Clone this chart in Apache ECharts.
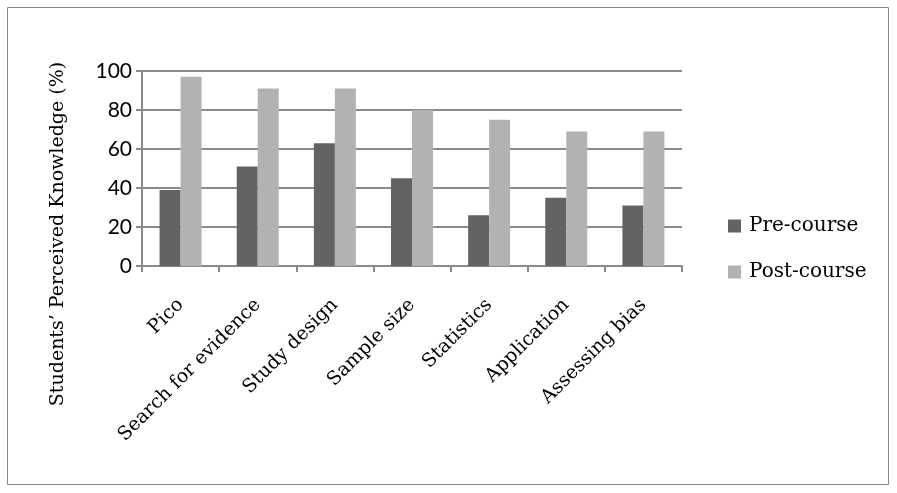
<!DOCTYPE html>
<html lang="en">
<head>
    <meta charset="UTF-8">
    <title>Perceived knowledge</title>
    <script src="https://cdn.jsdelivr.net/npm/echarts@6/dist/echarts.min.js"></script>
    <style>
        html, body {margin: 0; padding: 0; background: #fff;}
        #chart {width: 897px; height: 493px;}
    </style>
</head>
<body>
<div id="chart"></div>
<script type="text/javascript">
    var categories = ['Pico', 'Search for evidence', 'Study design', 'Sample size', 'Statistics', 'Application', 'Assessing bias'];
    var preCourse = [39, 51, 63, 45, 26, 35, 31];
    var postCourse = [97, 91, 91, 80, 75, 69, 69];
    var yTicks = [0, 20, 40, 60, 80, 100];

    var myChart = echarts.init(document.getElementById('chart'));
    var serif = '"DejaVu Serif", "Liberation Serif", serif';

    option = {
        animation: false,
        backgroundColor: '#fff',
        graphic: [
            {
                type: 'rect',
                shape: {x: 7.5, y: 7.5, width: 881, height: 477},
                style: {fill: 'none', stroke: '#8a8a8a', lineWidth: 1}
            },
            {
                type: 'text',
                x: 58, y: 234,
                rotation: Math.PI / 2,
                style: {
                    text: 'Students\u2019 Perceived Knowledge (%)',
                    font: '19px ' + serif,
                    fill: '#000',
                    textAlign: 'center',
                    textVerticalAlign: 'middle'
                }
            }
        ],
        legend: {
            orient: 'vertical',
            left: 723,
            top: 211,
            itemWidth: 13,
            itemHeight: 13,
            itemGap: 26,
            icon: 'rect',
            textStyle: {fontFamily: serif, fontSize: 20, color: '#000', padding: [0, 0, 0, 3]},
            data: ['Pre-course', 'Post-course']
        },
        grid: {left: 142, right: 215, top: 71, bottom: 227},
        xAxis: {
            type: 'category',
            data: categories,
            axisLine: {lineStyle: {color: '#8a8a8a', width: 2}},
            axisTick: {show: true, length: 6, lineStyle: {color: '#8a8a8a', width: 2}},
            axisLabel: {
                rotate: 45,
                interval: 0,
                margin: 36,
                fontFamily: serif,
                fontSize: 19,
                color: '#000'
            }
        },
        yAxis: {
            type: 'value',
            min: 0,
            max: 100,
            interval: 20,
            axisLine: {show: true, lineStyle: {color: '#8a8a8a', width: 2}},
            axisTick: {show: true, length: 6, lineStyle: {color: '#8a8a8a', width: 2}},
            splitLine: {lineStyle: {color: '#8a8a8a', width: 2}},
            axisLabel: {
                margin: 10,
                fontFamily: 'Lato, "Open Sans", sans-serif',
                fontSize: 21,
                color: '#000',
                formatter: function (v) { return yTicks.indexOf(v) >= 0 ? String(v) : ''; }
            }
        },
        series: [
            {
                name: 'Pre-course',
                type: 'bar',
                data: preCourse,
                barWidth: 21,
                barGap: '0%',
                itemStyle: {color: '#636363'}
            },
            {
                name: 'Post-course',
                type: 'bar',
                data: postCourse,
                barWidth: 21,
                itemStyle: {color: '#b2b2b2'}
            }
        ]
    };

    myChart.setOption(option);
</script>
</body>
</html>
